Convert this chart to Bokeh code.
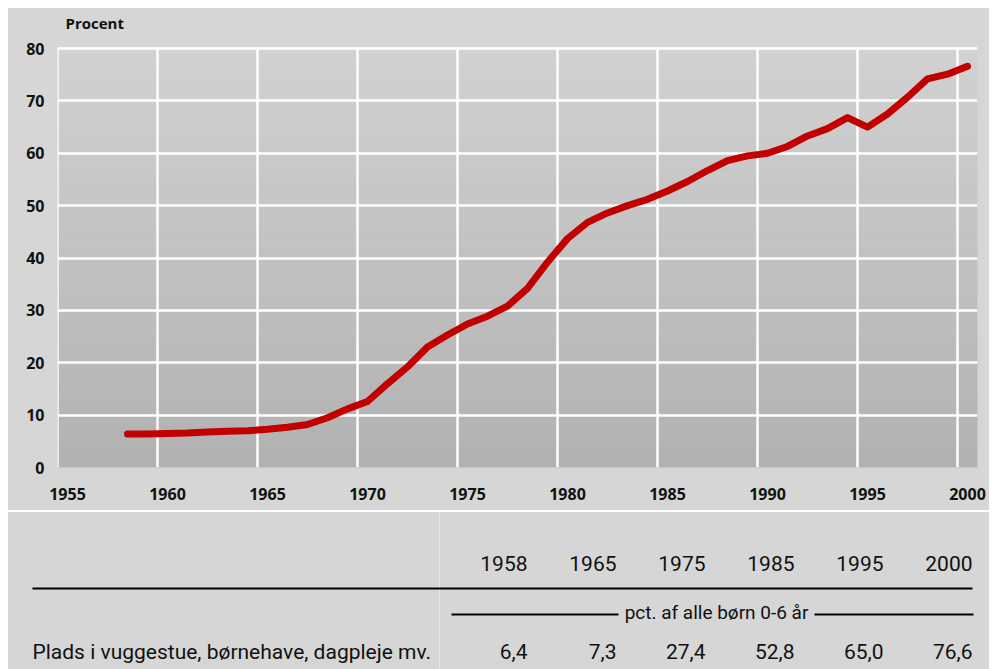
import numpy as np
from bokeh.plotting import figure
from bokeh.layouts import column
from bokeh.models import Range1d, FixedTicker, CustomJSTickFormatter
from bokeh.core.properties import value
from bokeh.embed import file_html
from bokeh.resources import INLINE

# ---- data ----
years = list(range(1958, 2001))
share = [6.4, 6.4, 6.5, 6.6, 6.8, 6.9, 7.0, 7.3, 7.7, 8.2,
         9.5, 11.2, 12.6, 16.0, 19.2, 23.0, 25.3, 27.4, 28.9, 30.8,
         34.2, 39.2, 43.7, 46.8, 48.6, 50.0, 51.2, 52.8, 54.6, 56.7,
         58.6, 59.5, 60.0, 61.3, 63.3, 64.7, 66.8, 65.0, 67.5, 70.7,
         74.2, 75.1, 76.6]
x_ticks = list(range(1955, 2001, 5))
y_ticks = list(range(0, 81, 10))
table_years = ["1958", "1965", "1975", "1985", "1995", "2000"]
table_values = ["6,4", "7,3", "27,4", "52,8", "65,0", "76,6"]
row_label = "Plads i vuggestue, børnehave, dagpleje mv."
unit_label = "pct. af alle børn 0-6 år"
y_title = "Procent"

PANEL = "#d6d6d6"
RED = "#c20000"
BOLD_FONT = "Open Sans"
TAB_FONT = "Roboto"

# ---- chart ----
H, BOTTOM, TOPPAD = 502, 43, 40
frame_h = H - BOTTOM
y_max = 80
y_top = y_max * frame_h / (frame_h - TOPPAD)
x0, x1 = 1955, 2001

p = figure(width=981, height=H, output_backend="svg", toolbar_location=None,
           x_range=Range1d(x0, x1), y_range=Range1d(0, y_top),
           min_border_left=49, min_border_right=12, min_border_top=0,
           min_border_bottom=BOTTOM)
p.background_fill_color = PANEL
p.border_fill_color = PANEL
p.outline_line_color = None
p.styles = {"background-color": PANEL}

# vertical gradient of the plot area
nb = 80
edges = np.linspace(0, y_max, nb + 1)
shades = np.linspace(178, 210, nb).astype(int)
cols = ["#%02x%02x%02x" % (s, s, s) for s in shades]
bg = p.quad(left=x0, right=x1, bottom=edges[:-1], top=edges[1:],
            fill_color=cols, line_color=cols, line_width=0.5)
bg.level = "image"

# grid
p.xgrid.visible = False
p.ygrid.ticker = FixedTicker(ticks=y_ticks)
p.ygrid.grid_line_color = "white"
p.ygrid.grid_line_width = 2.5
p.segment(x0=x_ticks, y0=[0] * len(x_ticks), x1=x_ticks,
          y1=[y_max] * len(x_ticks), line_color="white", line_width=2.5)

p.line([y + 0.5 for y in years], share, line_color=RED, line_width=7,
       line_cap="round", line_join="round")

p.xaxis.ticker = FixedTicker(ticks=[t + 0.5 for t in x_ticks])
p.xaxis.formatter = CustomJSTickFormatter(code="return String(Math.floor(tick));")
p.yaxis.ticker = FixedTicker(ticks=y_ticks)
for ax in (p.xaxis, p.yaxis):
    ax.axis_line_color = None
    ax.major_tick_line_color = None
    ax.minor_tick_line_color = None
    ax.major_tick_out = 0
    ax.major_tick_in = 0
    ax.major_label_text_font = BOLD_FONT
    ax.major_label_text_font_style = "bold"
    ax.major_label_text_font_size = "16px"
    ax.major_label_text_color = "#111111"
p.xaxis.major_label_standoff = 20
p.yaxis.major_label_standoff = 13

p.text(x=[x0 + 0.4], y=[y_max + 4.8], text=[y_title], text_align="left",
       text_baseline="middle", text_font=value(BOLD_FONT),
       text_font_style="bold", text_font_size="15px", text_color="#111111")

# ---- table ----
TW, TH = 981, 157
t = figure(width=TW, height=TH, output_backend="svg", toolbar_location=None,
           x_range=Range1d(0, TW), y_range=Range1d(TH, 0),
           min_border=0, min_border_left=0, min_border_right=0,
           min_border_top=0, min_border_bottom=0)
t.axis.visible = False
t.grid.visible = False
t.background_fill_color = PANEL
t.border_fill_color = PANEL
t.outline_line_color = None
t.styles = {"background-color": PANEL}
for fig in (p, t):
    if "frame_align" in fig.properties():
        fig.frame_align = False

n = len(table_years)
right_edges = [964 - (n - 1 - i) * 89 for i in range(n)]

t.segment(x0=431, y0=0, x1=431, y1=TH, line_color="#e8e8e8", line_width=1)
t.text(x=right_edges, y=[51] * n, text=table_years, text_align="right",
       text_baseline="middle", text_font=value(TAB_FONT),
       text_font_size="21px", text_color="#111111")
t.segment(x0=24, y0=76, x1=964, y1=76, line_color="black", line_width=2)
t.segment(x0=[443, 806], y0=[102, 102], x1=[610, 965], y1=[102, 102],
          line_color="black", line_width=2)
t.text(x=[708], y=[100], text=[unit_label], text_align="center",
       text_baseline="middle", text_font=value(TAB_FONT),
       text_font_size="19px", text_color="#111111")
t.text(x=[24], y=[139], text=[row_label], text_align="left",
       text_baseline="middle", text_font=value(TAB_FONT),
       text_font_size="21px", text_color="#111111")
t.text(x=right_edges, y=[139] * n, text=table_values, text_align="right",
       text_baseline="middle", text_font=value(TAB_FONT),
       text_font_size="21px", text_color="#111111")

layout = column(p, t, spacing=2, margin=(8, 8, 0, 8))
open("out.html", "w").write(file_html(layout, INLINE))
